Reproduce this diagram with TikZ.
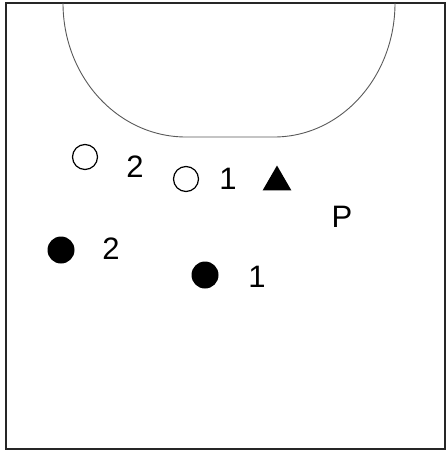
\documentclass[tikz,border=0pt]{standalone}
\usepackage{fontspec}
\setmainfont{Liberation Sans}
\usetikzlibrary{shapes.geometric}
\begin{document}
\begin{tikzpicture}[x=1pt,y=-1pt,
  lbl/.style={font=\fontsize{31}{31}\selectfont, inner sep=0pt},
  openp/.style={circle, draw=black, line width=1.2pt, minimum size=25pt, inner sep=0pt},
  fullp/.style={circle, fill=black, minimum size=27pt, inner sep=0pt},
  tri/.style={regular polygon, regular polygon sides=3, fill=black, minimum size=33pt, inner sep=0pt}]
\useasboundingbox (0,0) rectangle (446,452);
\draw[line width=1.3pt, black!85] (6,3) rectangle (445,449);
\draw[line width=0.9pt, black!65] (63,3) arc[start angle=180, end angle=90, x radius=123, y radius=134]
  -- (274,137) arc[start angle=90, end angle=0, x radius=121, y radius=134];
\node[openp] (o2) at (85,157) {};
\node[lbl] (t2) at (135,167) {2};
\node[openp] (o1) at (186,179) {};
\node[lbl] (t1) at (228,179) {1};
\node[tri] (tr) at (277,182) {};
\node[lbl] (p) at (342,217) {P};
\node[fullp] (f2) at (61,250) {};
\node[lbl] (u2) at (111,249) {2};
\node[fullp] (f1) at (205,275) {};
\node[lbl] (u1) at (257,277) {1};
\end{tikzpicture}
\end{document}
